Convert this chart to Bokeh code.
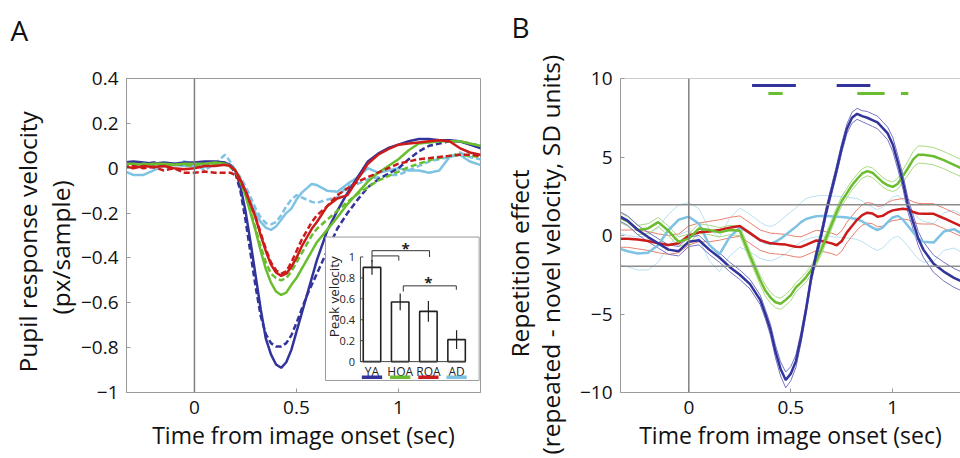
from math import pi
from bokeh.plotting import figure
from bokeh.models import Range1d, Span, Title, FixedTicker
from bokeh.layouts import row
from bokeh.embed import file_html
from bokeh.resources import INLINE
from bokeh.core.properties import value

FONT = "Open Sans"
C_YA, C_HOA, C_ROA, C_AD = "#33349b", "#6abd2e", "#cc1b1b", "#7ec3e3"
SE_YA, SE_HOA, SE_ROA, SE_AD = "#7474c4", "#a9d982", "#e8806f", "#b9e0f2"

# ---------------- Panel A data ----------------
tA = [-0.35, -0.3, -0.25, -0.2, -0.15, -0.1, -0.05, 0, 0.05, 0.1, 0.15,
      0.175, 0.2, 0.225, 0.25, 0.275, 0.3, 0.325, 0.35, 0.375, 0.4, 0.425, 0.45,
      0.475, 0.5, 0.525, 0.55, 0.575, 0.6,
      0.65, 0.7, 0.75, 0.8, 0.85, 0.9, 0.95, 1.0, 1.05, 1.1, 1.15, 1.2, 1.25,
      1.3, 1.35, 1.4, 1.45]
ya_repeated = [0.025, 0.03, 0.025, 0.02, 0.025, 0.02, 0.025, 0.025, 0.03, 0.03, 0.025,
               0.015, -0.01, -0.08, -0.19, -0.33, -0.48, -0.63, -0.76, -0.83, -0.875, -0.89, -0.865,
               -0.81, -0.73, -0.65, -0.57, -0.49, -0.41,
               -0.28, -0.19, -0.11, -0.04, 0.03, 0.065, 0.09, 0.105, 0.12, 0.13, 0.13, 0.125, 0.125,
               0.12, 0.105, 0.09, 0.085]
ya_novel = [0.02, 0.025, 0.02, 0.025, 0.02, 0.02, 0.015, 0.02, 0.02, 0.025, 0.02,
            0.01, -0.02, -0.1, -0.23, -0.38, -0.53, -0.66, -0.74, -0.78, -0.795, -0.795, -0.78,
            -0.745, -0.69, -0.63, -0.57, -0.52, -0.47,
            -0.37, -0.27, -0.2, -0.14, -0.085, -0.05, -0.025, 0.0, 0.04, 0.075, 0.1, 0.11, 0.12,
            0.12, 0.11, 0.1, 0.1]
hoa_repeated = [0.02, 0.02, 0.015, 0.02, 0.02, 0.015, 0.02, 0.02, 0.02, 0.025, 0.02,
                0.01, -0.01, -0.06, -0.12, -0.2, -0.28, -0.37, -0.45, -0.51, -0.55, -0.565, -0.555,
                -0.52, -0.49, -0.45, -0.41, -0.37, -0.33,
                -0.275, -0.22, -0.16, -0.11, -0.06, -0.02, 0.01, 0.04, 0.08, 0.11, 0.115, 0.12, 0.12,
                0.12, 0.11, 0.1, 0.09]
hoa_novel = [0.015, 0.01, 0.02, 0.015, 0.01, 0.02, 0.015, 0.01, 0.015, 0.02, 0.015,
             0.005, -0.01, -0.05, -0.11, -0.19, -0.27, -0.35, -0.42, -0.47, -0.49, -0.5, -0.49,
             -0.46, -0.42, -0.38, -0.34, -0.3, -0.27,
             -0.23, -0.19, -0.15, -0.115, -0.085, -0.055, -0.035, -0.015, 0.005, 0.02, 0.035, 0.045,
             0.055, 0.06, 0.055, 0.05, 0.045]
roa_repeated = [0.01, 0.0, 0.01, 0.005, 0.01, 0.0, -0.005, 0.0, 0.01, 0.01, 0.015,
                0.01, -0.01, -0.05, -0.1, -0.16, -0.22, -0.3, -0.37, -0.43, -0.465, -0.48, -0.47,
                -0.44, -0.4, -0.35, -0.31, -0.27, -0.24,
                -0.17, -0.135, -0.12, -0.05, 0.02, 0.06, 0.085, 0.105, 0.11, 0.115, 0.12, 0.125, 0.12,
                0.09, 0.07, 0.06, 0.06]
roa_novel = [0.0, 0.01, 0.0, 0.005, -0.01, 0.0, -0.02, -0.02, -0.015, -0.02, -0.02,
             -0.02, -0.03, -0.06, -0.1, -0.16, -0.22, -0.29, -0.36, -0.42, -0.455, -0.47, -0.46,
             -0.42, -0.37, -0.32, -0.28, -0.24, -0.21,
             -0.17, -0.12, -0.09, -0.06, -0.04, -0.02, 0.0, 0.02, 0.03, 0.04, 0.045, 0.05, 0.055,
             0.06, 0.06, 0.055, 0.05]
ad_repeated = [-0.01, -0.03, -0.03, -0.01, 0.01, 0.015, 0.01, 0.01, 0.005, 0.015, 0.02,
               0.015, -0.01, -0.05, -0.1, -0.15, -0.2, -0.24, -0.265, -0.275, -0.26, -0.23, -0.2,
               -0.18, -0.14, -0.11, -0.09, -0.07, -0.075,
               -0.1, -0.105, -0.07, -0.04, 0.0, -0.02, -0.01, 0.0, -0.01, -0.01, -0.02, -0.01, 0.05,
               0.06, 0.03, 0.015, 0.01]
ad_novel = [0.02, 0.01, 0.02, 0.0, 0.02, 0.01, 0.03, 0.02, -0.01, 0.02, 0.06,
            0.03, -0.01, -0.04, -0.08, -0.13, -0.18, -0.22, -0.245, -0.25, -0.24, -0.21, -0.17,
            -0.14, -0.12, -0.13, -0.14, -0.15, -0.155,
            -0.14, -0.13, -0.08, -0.07, -0.05, -0.04, -0.03, -0.03, -0.01, 0.01, 0.03, 0.04, 0.05,
            0.07, 0.05, 0.04, 0.04]

a_xticks = [0, 0.5, 1]
a_xlabels = ["0", "0.5", "1"]
a_yticks = [-1, -0.8, -0.6, -0.4, -0.2, 0, 0.2, 0.4]
a_ylabels = ["\u22121", "\u22120.8", "\u22120.6", "\u22120.4", "\u22120.2", "0", "0.2", "0.4"]

# inset bar chart
groups = ["YA", "HOA", "ROA", "AD"]
group_colors = [C_YA, C_HOA, C_ROA, C_AD]
peak_velocity = [0.9, 0.57, 0.48, 0.21]
peak_error = [0.07, 0.08, 0.1, 0.09]
inset_yticks = [0, 0.2, 0.4, 0.6, 0.8, 1]
inset_ylabels = ["0", "0.2", "0.4", "0.6", "0.8", "1"]

# ---------------- Panel B data ----------------
tB = [-0.35, -0.3, -0.25, -0.2, -0.15, -0.1, -0.05, 0.0, 0.05, 0.1, 0.15, 0.2, 0.25, 0.3,
      0.35, 0.375, 0.4, 0.425, 0.45, 0.475, 0.5, 0.525, 0.55, 0.575, 0.6, 0.625, 0.65, 0.675,
      0.7, 0.725, 0.75, 0.775, 0.8, 0.825, 0.85, 0.875, 0.9, 0.925, 0.95, 0.975, 1.0, 1.025,
      1.05, 1.075, 1.1, 1.125, 1.15,
      1.2, 1.25, 1.3, 1.35]
ya_effect = [1.3, 0.95, 0.35, -0.1, -0.5, -0.9, -1.0, -0.4, -0.3, -0.9, -1.4, -2.0, -2.5, -3.1,
             -4.1, -5.0, -6.0, -7.4, -8.5, -9.2, -8.8, -8.0, -6.5, -4.7, -2.7, -1.2, 0.1, 1.6,
             2.9, 4.2, 5.6, 6.8, 7.5, 7.75, 7.6, 7.5, 7.35, 7.2, 6.85, 6.5, 5.8, 4.65,
             3.4, 1.9, 0.85, -0.2, -0.9,
             -1.8, -2.3, -2.7, -3.0]
ya_se = [0.3, 0.3, 0.3, 0.3, 0.3, 0.3, 0.3, 0.3, 0.3, 0.3, 0.3, 0.3, 0.3, 0.3,
         0.3, 0.3, 0.35, 0.4, 0.45, 0.5, 0.45, 0.4, 0.35, 0.3, 0.3, 0.3, 0.3, 0.3,
         0.3, 0.3, 0.3, 0.3, 0.35, 0.35, 0.35, 0.4, 0.4, 0.4, 0.4, 0.4, 0.45, 0.45,
         0.45, 0.45, 0.45, 0.45, 0.5,
         0.55, 0.6, 0.6, 0.6]
hoa_effect = [1.2, 0.9, 0.35, 0.45, 0.85, 0.3, -0.4, -0.2, 0.45, 0.35, 0.2, 0.35, 0.3, -1.3,
              -2.85, -3.5, -3.95, -4.25, -4.35, -4.1, -3.8, -3.3, -3.0, -2.65, -2.2, -1.6, -0.9, -0.1,
              0.7, 1.5, 2.2, 2.7, 3.2, 3.6, 3.95, 4.1, 4.0, 3.7, 3.4, 3.2, 3.1, 3.3,
              3.8, 4.3, 4.85, 5.15, 5.15,
              5.05, 4.8, 4.5, 4.2]
hoa_se = [0.3, 0.3, 0.3, 0.3, 0.3, 0.3, 0.3, 0.3, 0.3, 0.3, 0.3, 0.3, 0.3, 0.3,
          0.3, 0.35, 0.35, 0.35, 0.35, 0.35, 0.35, 0.3, 0.3, 0.3, 0.3, 0.3, 0.3, 0.3,
          0.3, 0.3, 0.3, 0.3, 0.3, 0.3, 0.3, 0.3, 0.3, 0.3, 0.3, 0.3, 0.3, 0.35,
          0.4, 0.45, 0.5, 0.55, 0.55,
          0.55, 0.55, 0.55, 0.55]
roa_effect = [-0.2, -0.2, -0.25, -0.35, -0.5, -0.6, -0.5, 0.0, 0.2, 0.25, 0.35, 0.5, 0.6, 0.15,
              -0.3, -0.4, -0.5, -0.52, -0.55, -0.58, -0.65, -0.72, -0.73, -0.6, -0.45, -0.32, -0.35, -0.42,
              -0.5, -0.62, -0.35, 0.2, 0.6, 1.0, 1.3, 1.45, 1.4, 1.2, 1.25, 1.45, 1.6, 1.65,
              1.7, 1.65, 1.5, 1.4, 1.38,
              1.38, 1.1, 0.8, 0.5]
roa_se = [0.55, 0.55, 0.6, 0.6, 0.6, 0.6, 0.6, 0.6, 0.6, 0.65, 0.65, 0.65, 0.65, 0.65,
          0.65, 0.65, 0.65, 0.65, 0.65, 0.65, 0.65, 0.65, 0.65, 0.65, 0.65, 0.65, 0.65, 0.65,
          0.65, 0.65, 0.65, 0.65, 0.65, 0.65, 0.65, 0.65, 0.65, 0.65, 0.65, 0.65, 0.65, 0.65,
          0.65, 0.65, 0.65, 0.65, 0.65,
          0.65, 0.65, 0.65, 0.65]
ad_effect = [-0.8, -1.0, -1.15, -1.1, -0.6, 0.35, 1.0, 1.2, 0.75, -0.6, -1.2, -0.1, 0.5, 0.15,
             -0.3, -0.45, -0.52, -0.4, -0.2, 0.05, 0.3, 0.55, 0.85, 1.05, 1.15, 1.22, 1.25, 1.25,
             1.22, 1.2, 1.18, 1.15, 1.1, 1.05, 0.9, 0.7, 0.5, 0.35, 0.5, 0.85, 1.15, 1.25,
             1.0, 0.6, 0.2, -0.2, -0.4,
             -0.45, 0.25, 0.4, 0.05]
ad_se = [1.0, 1.0, 1.05, 1.1, 1.1, 1.0, 0.95, 0.9, 0.95, 1.0, 1.1, 1.2, 1.25, 1.2,
         1.15, 1.1, 1.1, 1.1, 1.15, 1.2, 1.2, 1.2, 1.25, 1.3, 1.3, 1.3, 1.3, 1.3,
         1.3, 1.3, 1.3, 1.3, 1.3, 1.3, 1.3, 1.3, 1.3, 1.3, 1.3, 1.3, 1.3, 1.3,
         1.3, 1.3, 1.3, 1.3, 1.3,
         1.2, 1.2, 1.2, 1.2]
b_threshold = 1.96
b_xticks = [0, 0.5, 1]
b_xlabels = ["0", "0.5", "1"]
b_yticks = [-10, -5, 0, 5, 10]
b_ylabels = ["\u221210", "\u22125", "0", "5", "10"]
sig_ya_start = [0.31, 0.725]
sig_ya_end = [0.525, 0.89]
sig_ya_level = 9.55
sig_hoa_start = [0.39, 0.826, 1.04]
sig_hoa_end = [0.46, 0.96, 1.076]
sig_hoa_level = 9.05

AXIS_GRAY = "#9a9a9a"
TXT = "#111111"


def style_axis(ax, ticks, labels):
    ax.ticker = FixedTicker(ticks=ticks)
    ax.major_label_overrides = {t: l for t, l in zip(ticks, labels)}
    ax.axis_line_color = AXIS_GRAY
    ax.major_tick_line_color = AXIS_GRAY
    ax.major_tick_in = 4
    ax.major_tick_out = 0
    ax.minor_tick_line_color = None
    ax.major_label_text_font = FONT
    ax.major_label_text_font_size = "19px"
    ax.major_label_text_color = TXT
    ax.major_label_standoff = 8


def style_xlabel(p):
    p.xaxis.axis_label = "Time from image onset (sec)"
    p.xaxis.axis_label_text_font = FONT
    p.xaxis.axis_label_text_font_size = "23px"
    p.xaxis.axis_label_text_font_style = "normal"
    p.xaxis.axis_label_text_color = TXT
    p.xaxis.axis_label_standoff = 2
    p.xaxis.major_label_standoff = 8


def make_title(text, size, align, offset, standoff, valign="bottom"):
    return Title(text=text, align=align, offset=offset, standoff=standoff,
                 vertical_align=valign, text_font=FONT, text_font_size=size,
                 text_font_style="normal", text_color=TXT)


# ================= Panel A =================
pA = figure(width=482, height=458, x_range=Range1d(-0.333, 1.402), y_range=Range1d(-1, 0.4),
            output_backend="svg", toolbar_location=None,
            min_border_left=126, min_border_right=2, min_border_top=78, min_border_bottom=65)
pA.title.visible = False
pA.grid.visible = False
pA.outline_line_color = AXIS_GRAY
style_axis(pA.xaxis[0], a_xticks, a_xlabels)
style_axis(pA.yaxis[0], a_yticks, a_ylabels)
style_xlabel(pA)

pA.add_layout(make_title("A\n\u00a0", "28px", "left", -116, -20, "top"), "above")
pA.add_layout(make_title("(px/sample)", "24.5px", "left", 78, 1), "left")
pA.add_layout(make_title("Pupil response velocity", "24.5px", "left", 20, -4), "left")

pA.add_layout(Span(location=0, dimension="height", line_color="#808080", line_width=1.5))

curvesA = [(ad_novel, C_AD, "6 3"), (ad_repeated, C_AD, "solid"),
           (ya_novel, C_YA, "6 3"), (ya_repeated, C_YA, "solid"),
           (hoa_novel, C_HOA, "6 3"), (hoa_repeated, C_HOA, "solid"),
           (roa_novel, C_ROA, "6 3"), (roa_repeated, C_ROA, "solid")]
for vals, col, dash in curvesA:
    pA.line(tA, vals, line_color=col, line_width=2.5, line_dash=dash)

# ---- inset on extra ranges ----
pA.extra_x_ranges = {"ix": Range1d(-8.706, 3.848)}
pA.extra_y_ranges = {"iy": Range1d(-0.295, 2.705)}
kw = dict(x_range_name="ix", y_range_name="iy")
pA.quad(left=[-1.65], right=[3.80], bottom=[-0.18], top=[1.19], fill_color="white",
        line_color=AXIS_GRAY, line_width=1, **kw)
idx = list(range(len(groups)))
pA.vbar(x=idx, width=0.62, top=peak_velocity, bottom=0, fill_color="white",
        line_color="#222222", line_width=1.6, **kw)
pA.segment(x0=idx, x1=idx, y0=[v - e for v, e in zip(peak_velocity, peak_error)],
           y1=[v + e for v, e in zip(peak_velocity, peak_error)],
           line_color="#222222", line_width=1.2, **kw)
ax_x = -0.41
pA.segment(x0=[ax_x, ax_x], y0=[0, 0], x1=[ax_x, 3.33], y1=[1.0, 0], line_color="#444444",
           line_width=1, **kw)
pA.segment(x0=[ax_x] * len(inset_yticks), x1=[ax_x + 0.1] * len(inset_yticks),
           y0=inset_yticks, y1=inset_yticks, line_color="#444444", line_width=1, **kw)
pA.text(x=[-0.6] * len(inset_yticks), y=inset_yticks, text=inset_ylabels,
        text_align="right", text_baseline="middle", text_font=value(FONT),
        text_font_size="11px", text_color="#222222", **kw)
pA.text(x=[-1.33], y=[0.62], text=["Peak velocity"], angle=pi / 2, text_align="center",
        text_baseline="middle", text_font=value(FONT), text_font_size="13.5px",
        text_color="#222222", **kw)
pA.text(x=idx, y=[-0.09] * len(groups), text=groups, text_align="center",
        text_baseline="middle", text_font=value(FONT), text_font_size="12px",
        text_color="#222222", **kw)
pA.segment(x0=[i - 0.36 for i in idx], x1=[i + 0.36 for i in idx], y0=[-0.15] * 4,
           y1=[-0.15] * 4, line_color=group_colors, line_width=3.5, **kw)
# significance brackets
pA.multi_line(xs=[[0.0, 0.0, 2.04, 2.04], [0.0, 0.95, 0.95], [1.11, 1.11, 2.99, 2.99]],
              ys=[[0.95, 1.06, 1.06, 1.0], [1.01, 1.01, 0.965], [0.67, 0.724, 0.724, 0.686]],
              line_color="#333333", line_width=1, **kw)
pA.text(x=[1.19, 2.0], y=[1.09, 0.76], text=["*", "*"], text_align="center",
        text_baseline="middle", text_font=value(FONT), text_font_size="15px",
        text_font_style="bold", text_color="#222222", **kw)

# ================= Panel B =================
pB = figure(width=478, height=458, x_range=Range1d(-0.335, 1.332), y_range=Range1d(-10, 10),
            output_backend="svg", toolbar_location=None,
            min_border_left=138, min_border_right=0, min_border_top=75, min_border_bottom=66)
pB.title.visible = False
pB.grid.visible = False
pB.outline_line_color = None
style_axis(pB.xaxis[0], b_xticks, b_xlabels)
style_axis(pB.yaxis[0], b_yticks, b_ylabels)
style_xlabel(pB)

pB.add_layout(make_title("B\n\u00a0", "28px", "left", -109, -14, "top"), "above")
pB.add_layout(make_title("(repeated - novel velocity, SD units)", "24.5px", "left", -62, 19), "left")
pB.add_layout(make_title("Repetition effect", "24.5px", "left", 35, -27), "left")

pB.add_layout(Span(location=10, dimension="width", line_color=AXIS_GRAY, line_width=1))
pB.add_layout(Span(location=0, dimension="height", line_color="#808080", line_width=1.5))
for lvl in (b_threshold, -b_threshold):
    pB.add_layout(Span(location=lvl, dimension="width", line_color="#8c8c8c", line_width=1.5))

seriesB = [(ad_effect, ad_se, C_AD, SE_AD), (roa_effect, roa_se, C_ROA, SE_ROA),
           (hoa_effect, hoa_se, C_HOA, SE_HOA), (ya_effect, ya_se, C_YA, SE_YA)]
for m, s, col, scol in seriesB:
    pB.line(tB, [a + b for a, b in zip(m, s)], line_color=scol, line_width=1)
    pB.line(tB, [a - b for a, b in zip(m, s)], line_color=scol, line_width=1)
for m, s, col, scol in seriesB:
    pB.line(tB, m, line_color=col, line_width=2.5)

pB.segment(x0=sig_ya_start, x1=sig_ya_end, y0=[sig_ya_level] * len(sig_ya_start),
           y1=[sig_ya_level] * len(sig_ya_start), line_color=C_YA, line_width=3)
pB.segment(x0=sig_hoa_start, x1=sig_hoa_end, y0=[sig_hoa_level] * len(sig_hoa_start),
           y1=[sig_hoa_level] * len(sig_hoa_start), line_color=C_HOA, line_width=3)

layout = row(pA, pB)
open("out.html", "w").write(file_html(layout, INLINE))
